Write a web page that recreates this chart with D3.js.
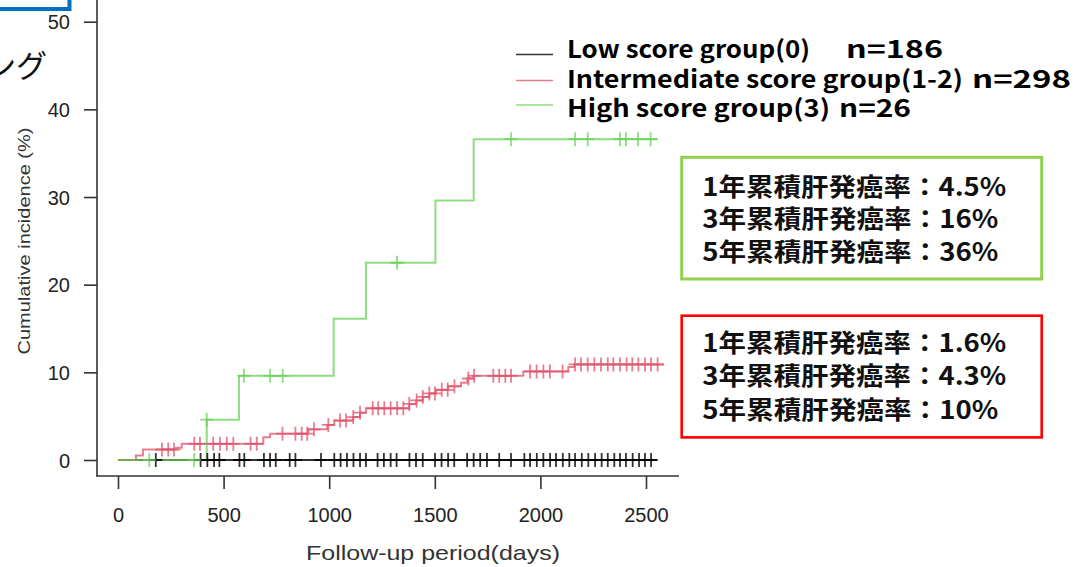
<!DOCTYPE html>
<html><head><meta charset="utf-8">
<script src="https://cdn.jsdelivr.net/npm/d3@7"></script>
<style>html,body{margin:0;padding:0;background:#fff;} svg{display:block;}</style>
</head><body>
<svg id="c" width="1091" height="567"></svg>
<script>
// ---------------- data ----------------
const xTicks = [0, 500, 1000, 1500, 2000, 2500];
const yTicks = [0, 10, 20, 30, 40, 50];
const xTitle = "Follow-up period(days)";
const yTitle = "Cumulative incidence (%)";

const legendNames = ["Low score group(0)", "Intermediate score group(1-2)", "High score group(3)"];
const legendCounts = ["n=186", "n=298", "n=26"];

// step curves: [day, cumulative incidence %]
const lowSteps = [[0, 0]];
const lowEnd = 2553;
const lowCensor = [179,391,423,455,480,575,598,691,720,747,813,840,961,1024,1054,1084,1115,1146,1174,1229,1259,1291,1319,1380,1411,1443,1501,1532,1563,1592,1653,1684,1715,1747,1805,1861,1924,1951,1983,2014,2046,2074,2106,2137,2164,2196,2227,2259,2290,2319,2350,2377,2405,2437,2467,2495,2524];

const interSteps = [[0,0],[85,0.5],[118,1.2],[275,1.4],[302,1.85],[688,2.6],[720,3.0],[901,3.5],[991,4.0],[1024,4.5],[1113,4.9],[1146,5.4],[1174,5.9],[1379,6.4],[1411,6.8],[1443,7.2],[1474,7.6],[1506,8.0],[1564,8.4],[1624,8.8],[1654,9.3],[1682,9.6],[1919,10.1],[2132,10.6],[2160,10.9]];
const interEnd = 2585;
const interCensor = [208,238,265,361,388,451,483,515,546,628,657,779,840,870,896,928,996,1051,1080,1114,1146,1206,1232,1261,1291,1322,1351,1379,1414,1443,1474,1501,1533,1561,1593,1659,1686,1777,1805,1834,1861,1951,1982,2014,2045,2105,2164,2192,2224,2255,2287,2319,2345,2377,2408,2435,2464,2495,2524,2555];

const highSteps = [[0,0],[420,4.6],[573,9.6],[1021,16.1],[1174,22.5],[1503,29.6],[1684,36.6]];
const highEnd = 2555;
const highCensor = [148,361,420,596,720,780,1321,1861,2164,2224,2377,2405,2462,2522];

const highBoxLines = ["1年累積肝発癌率：4.5%", "3年累積肝発癌率：16%", "5年累積肝発癌率：36%"];
const interBoxLines = ["1年累積肝発癌率：1.6%", "3年累積肝発癌率：4.3%", "5年累積肝発癌率：10%"];

// ---------------- drawing ----------------
const svg = d3.select("#c");
const x = d3.scaleLinear().domain([0, 2500]).range([118, 646]);
const y = d3.scaleLinear().domain([0, 50]).range([460, 21.7]);

const series = [
  {steps: lowSteps, end: lowEnd, censor: lowCensor, color: "#000000", op: 0.8},
  {steps: interSteps, end: interEnd, censor: interCensor, color: "#DF536B", op: 0.75},
  {steps: highSteps, end: highEnd, censor: highCensor, color: "#61D04F", op: 0.72}
];

// slide fragments (cropped slide)
svg.append("rect").attr("x", -20).attr("y", -20).attr("width", 89.5).attr("height", 29)
  .attr("fill", "none").attr("stroke", "#0070C0").attr("stroke-width", 4);
svg.append("text").attr("x", 47).attr("y", 77).attr("text-anchor", "end")
  .attr("font-family", "Noto Sans CJK JP").attr("font-size", 31).attr("fill", "#111").text("ング");

// frame (bty = "l")
const axisColor = "#333";
svg.append("line").attr("x1", 97).attr("y1", 0).attr("x2", 97).attr("y2", 476.5)
  .attr("stroke", axisColor).attr("stroke-width", 1.6);
svg.append("line").attr("x1", 96.2).attr("y1", 476).attr("x2", 679).attr("y2", 476)
  .attr("stroke", axisColor).attr("stroke-width", 1.6);

const tickFont = "Liberation Sans, Arial, sans-serif";
// y axis
const yAxis = d3.axisLeft(y).tickValues(yTicks).tickFormat(d3.format("d")).tickSize(13);
const gy = svg.append("g").attr("transform", "translate(97,0)").call(yAxis);
gy.select(".domain").remove();
gy.selectAll(".tick line").attr("stroke", axisColor).attr("stroke-width", 1.6);
gy.selectAll(".tick text").attr("font-family", tickFont).attr("font-size", 20).attr("fill", "#222")
  .attr("x", -27).attr("dy", "0.35em");

// x axis
const xAxis = d3.axisBottom(x).tickValues(xTicks).tickFormat(d3.format("d")).tickSize(13);
const gx = svg.append("g").attr("transform", "translate(0,476)").call(xAxis);
gx.select(".domain").remove();
gx.selectAll(".tick line").attr("stroke", axisColor).attr("stroke-width", 1.6);
gx.selectAll(".tick text").attr("font-family", tickFont).attr("font-size", 20).attr("fill", "#222")
  .attr("y", 46).attr("dy", 0);

// axis titles
svg.append("text").attr("x", 433).attr("y", 560).attr("text-anchor", "middle")
  .attr("font-family", tickFont).attr("font-size", 21).attr("fill", "#333")
  .attr("textLength", 254).attr("lengthAdjust", "spacingAndGlyphs").text(xTitle);
svg.append("text").attr("transform", "translate(30,241) rotate(-90)").attr("text-anchor", "middle")
  .attr("font-family", tickFont).attr("font-size", 17).attr("fill", "#333")
  .attr("textLength", 227).attr("lengthAdjust", "spacingAndGlyphs").text(yTitle);

// curves
function levelAt(steps, t) {
  let v = steps[0][1];
  for (const [d, l] of steps) if (d <= t) v = l;
  return v;
}
const line = d3.line().x(d => x(d[0])).y(d => y(d[1])).curve(d3.curveStepAfter);
series.forEach(s => {
  const pts = s.steps.concat([[s.end, s.steps[s.steps.length - 1][1]]]);
  svg.append("path").attr("d", line(pts)).attr("fill", "none")
    .attr("stroke", s.color).attr("stroke-opacity", s.op).attr("stroke-width", 2);
});
series.forEach(s => {
  svg.append("g").selectAll("path").data(s.censor).join("path")
    .attr("d", t => {
      const px = x(t), py = y(levelAt(s.steps, t));
      return `M${px - 6.5},${py}H${px + 6.5}M${px},${py - 7}V${py + 7}`;
    })
    .attr("fill", "none").attr("stroke", s.color).attr("stroke-opacity", s.op).attr("stroke-width", 1.8);
});

// legend
const legFont = "Noto Sans CJK JP";
const legStart = 567;
const legLayout = [
  {lineY: 54.5, base: 58, nameEnd: 810, nStart: 846, nEnd: 943},
  {lineY: 80.5, base: 87.5, nameEnd: 963, nStart: 972, nEnd: 1071},
  {lineY: 105, base: 116.5, nameEnd: 830, nStart: 839, nEnd: 911}
];
series.forEach((s, i) => {
  const L = legLayout[i];
  svg.append("line").attr("x1", 516).attr("x2", 553).attr("y1", L.lineY).attr("y2", L.lineY)
    .attr("stroke", s.color).attr("stroke-opacity", s.op).attr("stroke-width", 1.6);
  svg.append("text").attr("x", legStart).attr("y", L.base).attr("font-family", legFont)
    .attr("font-weight", 700).attr("font-size", 24).attr("fill", "#000")
    .attr("textLength", L.nameEnd - legStart).attr("lengthAdjust", "spacingAndGlyphs").text(legendNames[i]);
  svg.append("text").attr("x", L.nStart).attr("y", L.base).attr("font-family", legFont)
    .attr("font-weight", 700).attr("font-size", 24).attr("fill", "#000")
    .attr("textLength", L.nEnd - L.nStart).attr("lengthAdjust", "spacingAndGlyphs").text(legendCounts[i]);
});

// annotation boxes
function box(top, color, sw, lines, bases) {
  svg.append("rect").attr("x", 681.7).attr("y", top).attr("width", 360).attr("height", 121.7)
    .attr("fill", "none").attr("stroke", color).attr("stroke-width", sw);
  lines.forEach((t, i) => {
    svg.append("text").attr("x", 702.3).attr("y", bases[i]).attr("font-family", legFont)
      .attr("font-weight", 700).attr("font-size", 25).attr("fill", "#111")
      .attr("textLength", t.includes(".") ? 304 : 296).attr("lengthAdjust", "spacingAndGlyphs").text(t);
  });
}
box(157.3, "#92D050", 3, highBoxLines, [195.5, 228, 260.5]);
box(315.7, "#FF0000", 2.6, interBoxLines, [352, 385, 418.5]);
</script>
</body></html>
